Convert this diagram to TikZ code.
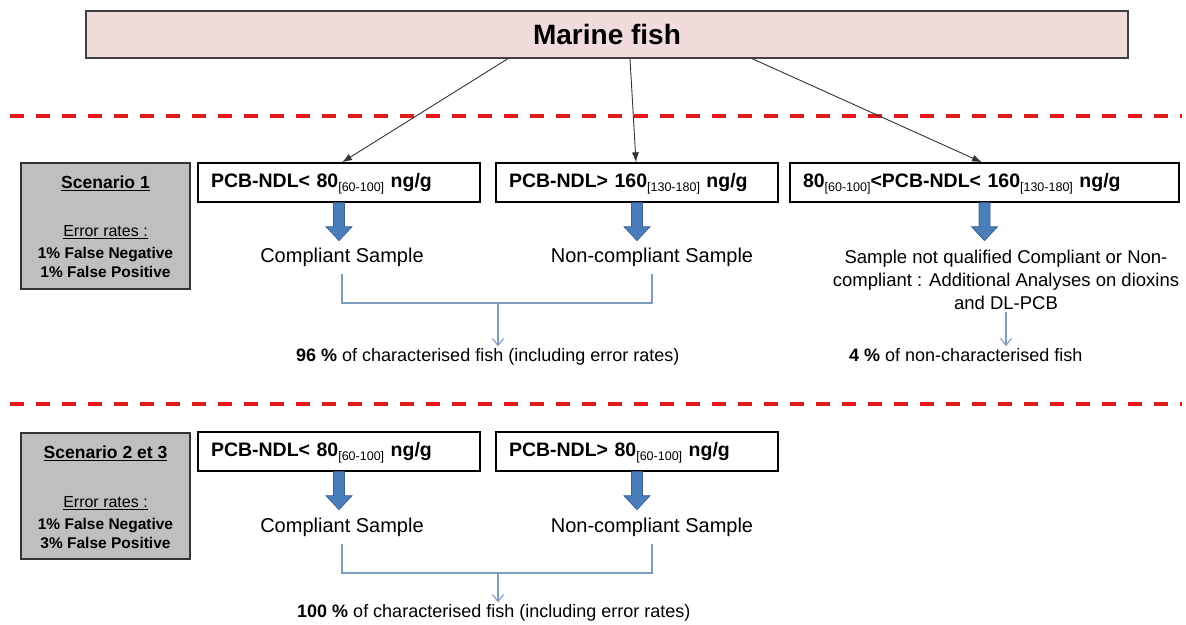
\documentclass[tikz,border=0pt]{standalone}
\usepackage{fontspec}
\setmainfont{Liberation Sans}
\usetikzlibrary{arrows.meta}

\definecolor{fishpink}{HTML}{F2DCDB}
\definecolor{scengray}{HTML}{BFBFBF}
\definecolor{sepred}{HTML}{E01A1A}
\definecolor{arrowblue}{HTML}{4A7EBB}
\definecolor{arrowedge}{HTML}{3A6496}
\definecolor{linkblue}{HTML}{7E9CC0}

% lowered concentration interval after a threshold value
\newcommand{\subrange}[1]{\raisebox{-3.5pt}[0pt][0pt]{\fontsize{12.5}{14}\selectfont\mdseries #1}}

\begin{document}
\begin{tikzpicture}[x=1pt, y=-1pt,
  topbox/.style={draw=black!75, line width=1.2pt, fill=fishpink,
    minimum width=1042pt, minimum height=47pt, inner sep=0pt,
    font=\fontsize{28}{32}\selectfont\bfseries},
  scenbox/.style={draw=black!80, line width=1.5pt, fill=scengray,
    minimum width=169pt, minimum height=126pt, inner sep=0pt},
  condbox/.style={draw=black, line width=1.3pt, fill=white,
    minimum height=39pt, inner xsep=13pt, inner ysep=0pt,
    align=left, text width=256pt,
    font=\fontsize{19.5}{22}\selectfont\bfseries},
  scentitle/.style={inner sep=1pt, font=\fontsize{17.5}{20}\selectfont\bfseries},
  errtitle/.style={inner sep=1pt, font=\fontsize{16}{18}\selectfont},
  errlines/.style={inner sep=1pt, align=center, font=\fontsize{15.5}{19}\selectfont\bfseries},
  lbl/.style={inner sep=2pt, align=center, font=\fontsize{20}{23}\selectfont},
  notelbl/.style={inner sep=2pt, align=center, font=\fontsize{18.5}{23}\selectfont},
  result/.style={inner sep=2pt, anchor=west, font=\fontsize{18}{21}\selectfont},
  fan/.style={draw=black!80, line width=0.9pt, -{Latex[length=10pt,width=7pt]}},
  link/.style={draw=linkblue, line width=1.1pt},
  linkarrow/.style={link, -{Straight Barb[length=7pt,width=11pt]}},
  sepline/.style={draw=sepred, line width=4pt, dash pattern=on 14pt off 12pt},
  thickdown/.pic={
    \path[fill=arrowblue, draw=arrowedge, line width=0.8pt]
      (-5.5,0) -- (5.5,0) -- (5.5,24) -- (13,24) -- (0,38)
      -- (-13,24) -- (-5.5,24) -- cycle;
  }
]
\useasboundingbox (0,0) rectangle (1186,624);

% header
\node[topbox] (top) at (607,34.5) {Marine fish};

% section separators
\draw[sepline] (10,116) -- (1182,116);
\draw[sepline] (10,404) -- (1182,404);

% ---------- Scenario 1 ----------
\node[scenbox] (s1) at (105.5,226) {};
\node[scentitle] (s1t) at (105.5,183) {\underline{Scenario 1}};
\node[errtitle] (s1e) at (105.5,232) {\underline{Error rates :}};
\node[errlines] (s1r) at (105.5,262.5) {1\% False Negative\\1\% False Positive};

\node[condbox] (a1) at (339,182.5) {PCB-NDL< 80\subrange{[60-100]} ng/g};
\node[condbox] (b1) at (637,182.5) {PCB-NDL> 160\subrange{[130-180]} ng/g};
\node[condbox, text width=363pt] (c1) at (984.5,182.5)
  {80\subrange{[60-100]}<PCB-NDL< 160\subrange{[130-180]} ng/g};

\draw[fan] ([xshift=-99pt]top.south) -- ([xshift=3pt]a1.north);
\draw[fan] ([xshift=23pt]top.south) -- ([xshift=-1pt]b1.north);
\draw[fan] ([xshift=145pt]top.south) -- ([xshift=-2.5pt]c1.north);

\pic at (a1.south) {thickdown};
\pic at (b1.south) {thickdown};
\pic at (c1.south) {thickdown};

\node[lbl] (cs1) at (342,257) {Compliant Sample};
\node[lbl] (ncs1) at (652,257) {Non-compliant Sample};
\node[notelbl] (nq1) at (1006,280)
  {Sample not qualified Compliant or Non-\\compliant : Additional Analyses on dioxins\\and DL-PCB};

\coordinate (m1) at (498,303);
\draw[link] ([yshift=-5pt]cs1.south) |- (m1) -| ([yshift=-5pt]ncs1.south);

\node[result] (r1) at (294,357) {\textbf{96 \%} of characterised fish (including error rates)};
\node[result] (r2) at (847,355) {\textbf{4 \%} of non-characterised fish};

\draw[linkarrow] (m1) -- (m1 |- r1.north);
\draw[linkarrow] (nq1.south) -- (nq1.south |- r2.north);

% ---------- Scenario 2 et 3 ----------
\node[scenbox] (s2) at (105.5,496) {};
\node[scentitle] (s2t) at (105.5,453) {\underline{Scenario 2 et 3}};
\node[errtitle] (s2e) at (105.5,503) {\underline{Error rates :}};
\node[errlines] (s2r) at (105.5,533) {1\% False Negative\\3\% False Positive};

\node[condbox] (a2) at (339,451.5) {PCB-NDL< 80\subrange{[60-100]} ng/g};
\node[condbox] (b2) at (637,451.5) {PCB-NDL> 80\subrange{[60-100]} ng/g};

\pic at (a2.south) {thickdown};
\pic at (b2.south) {thickdown};

\node[lbl] (cs2) at (342,527) {Compliant Sample};
\node[lbl] (ncs2) at (652,527) {Non-compliant Sample};

\coordinate (m2) at (498,573);
\draw[link] ([yshift=-5pt]cs2.south) |- (m2) -| ([yshift=-5pt]ncs2.south);

\node[result] (r3) at (295,613) {\textbf{100 \%} of characterised fish (including error rates)};
\draw[linkarrow] (m2) -- (m2 |- r3.north);

\end{tikzpicture}
\end{document}
